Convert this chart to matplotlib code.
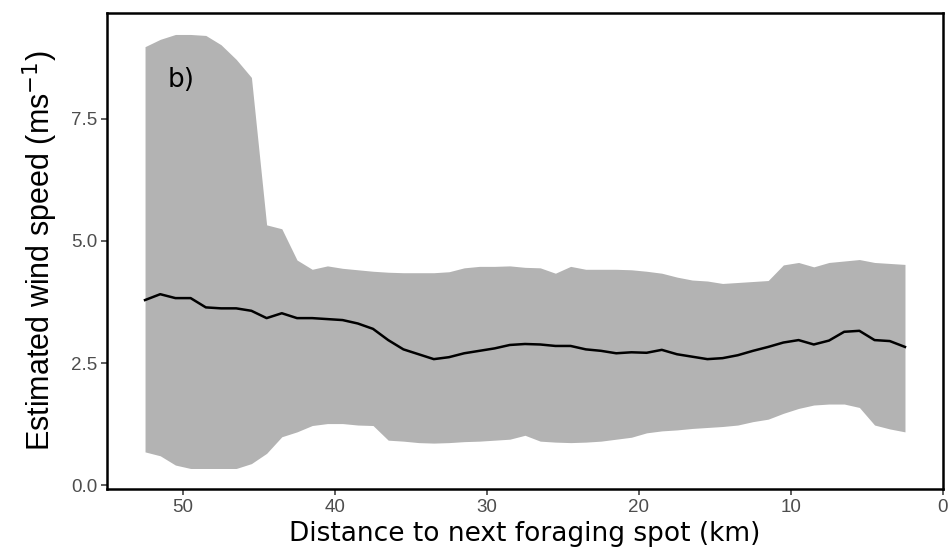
import numpy as np
import matplotlib
matplotlib.use("Agg")
import matplotlib.pyplot as plt

# distance to next foraging spot (km), 1 km bins
dist = np.arange(52.5, 2.0, -1.0)

# mean estimated wind speed
wind_mean = [3.79, 3.91, 3.83, 3.83, 3.64, 3.62, 3.62, 3.57, 3.42, 3.52,
             3.42, 3.42, 3.40, 3.38, 3.31, 3.20, 2.97, 2.78, 2.68, 2.58,
             2.62, 2.70, 2.75, 2.80, 2.87, 2.89, 2.88, 2.85, 2.85, 2.78,
             2.75, 2.70, 2.72, 2.71, 2.77, 2.68, 2.63, 2.58, 2.60, 2.66,
             2.75, 2.83, 2.92, 2.97, 2.88, 2.96, 3.14, 3.16, 2.97, 2.95,
             2.83]

# upper and lower bounds of the ribbon
wind_upper = [8.98, 9.13, 9.23, 9.23, 9.21, 9.02, 8.72, 8.35, 5.33, 5.25,
              4.61, 4.42, 4.49, 4.44, 4.41, 4.38, 4.36, 4.35, 4.35, 4.35,
              4.37, 4.45, 4.48, 4.48, 4.49, 4.46, 4.45, 4.34, 4.48, 4.42,
              4.42, 4.42, 4.41, 4.38, 4.34, 4.26, 4.20, 4.18, 4.13, 4.15,
              4.17, 4.19, 4.51, 4.56, 4.47, 4.56, 4.59, 4.62, 4.56, 4.54,
              4.52]

wind_lower = [0.68, 0.60, 0.41, 0.34, 0.34, 0.34, 0.34, 0.44, 0.65, 0.99,
              1.09, 1.22, 1.26, 1.26, 1.23, 1.22, 0.92, 0.90, 0.87, 0.86,
              0.87, 0.89, 0.90, 0.92, 0.94, 1.02, 0.90, 0.88, 0.87, 0.88,
              0.90, 0.94, 0.98, 1.07, 1.11, 1.13, 1.16, 1.18, 1.20, 1.23,
              1.30, 1.35, 1.47, 1.57, 1.64, 1.66, 1.66, 1.59, 1.23, 1.15,
              1.09]

x_ticks = [50, 40, 30, 20, 10, 0]
y_ticks = [0.0, 2.5, 5.0, 7.5]

fig = plt.figure(figsize=(9.48, 5.6), dpi=100)
ax = fig.add_axes([0.1129, 0.1268, 0.8818, 0.85])

ax.fill_between(dist, wind_lower, wind_upper, color="#b3b3b3", linewidth=0)
ax.plot(dist, wind_mean, color="black", linewidth=1.8)

ax.set_xlim(55, 0)
ax.set_ylim(-0.08, 9.67)
ax.set_xticks(x_ticks)
ax.set_yticks(y_ticks)
ax.set_yticklabels(["%.1f" % v for v in y_ticks])

for s in ax.spines.values():
    s.set_linewidth(1.8)
    s.set_color("black")
ax.tick_params(direction="out", length=4, width=1.1, color="#333333",
               labelcolor="#4d4d4d", labelsize=13.5, pad=3)
for lab in ax.get_xticklabels() + ax.get_yticklabels():
    lab.set_family("Liberation Sans")

ax.set_xlabel("Distance to next foraging spot (km)", fontsize=19,
              family="DejaVu Sans", labelpad=4)
ax.set_ylabel("Estimated wind speed (ms$^{-1}$)", fontsize=22,
              family="Liberation Sans", labelpad=8)

ax.text(0.072, 0.845, "b)", transform=ax.transAxes, fontsize=19,
        family="DejaVu Sans", color="black")

fig.savefig("out.png", dpi=100)
